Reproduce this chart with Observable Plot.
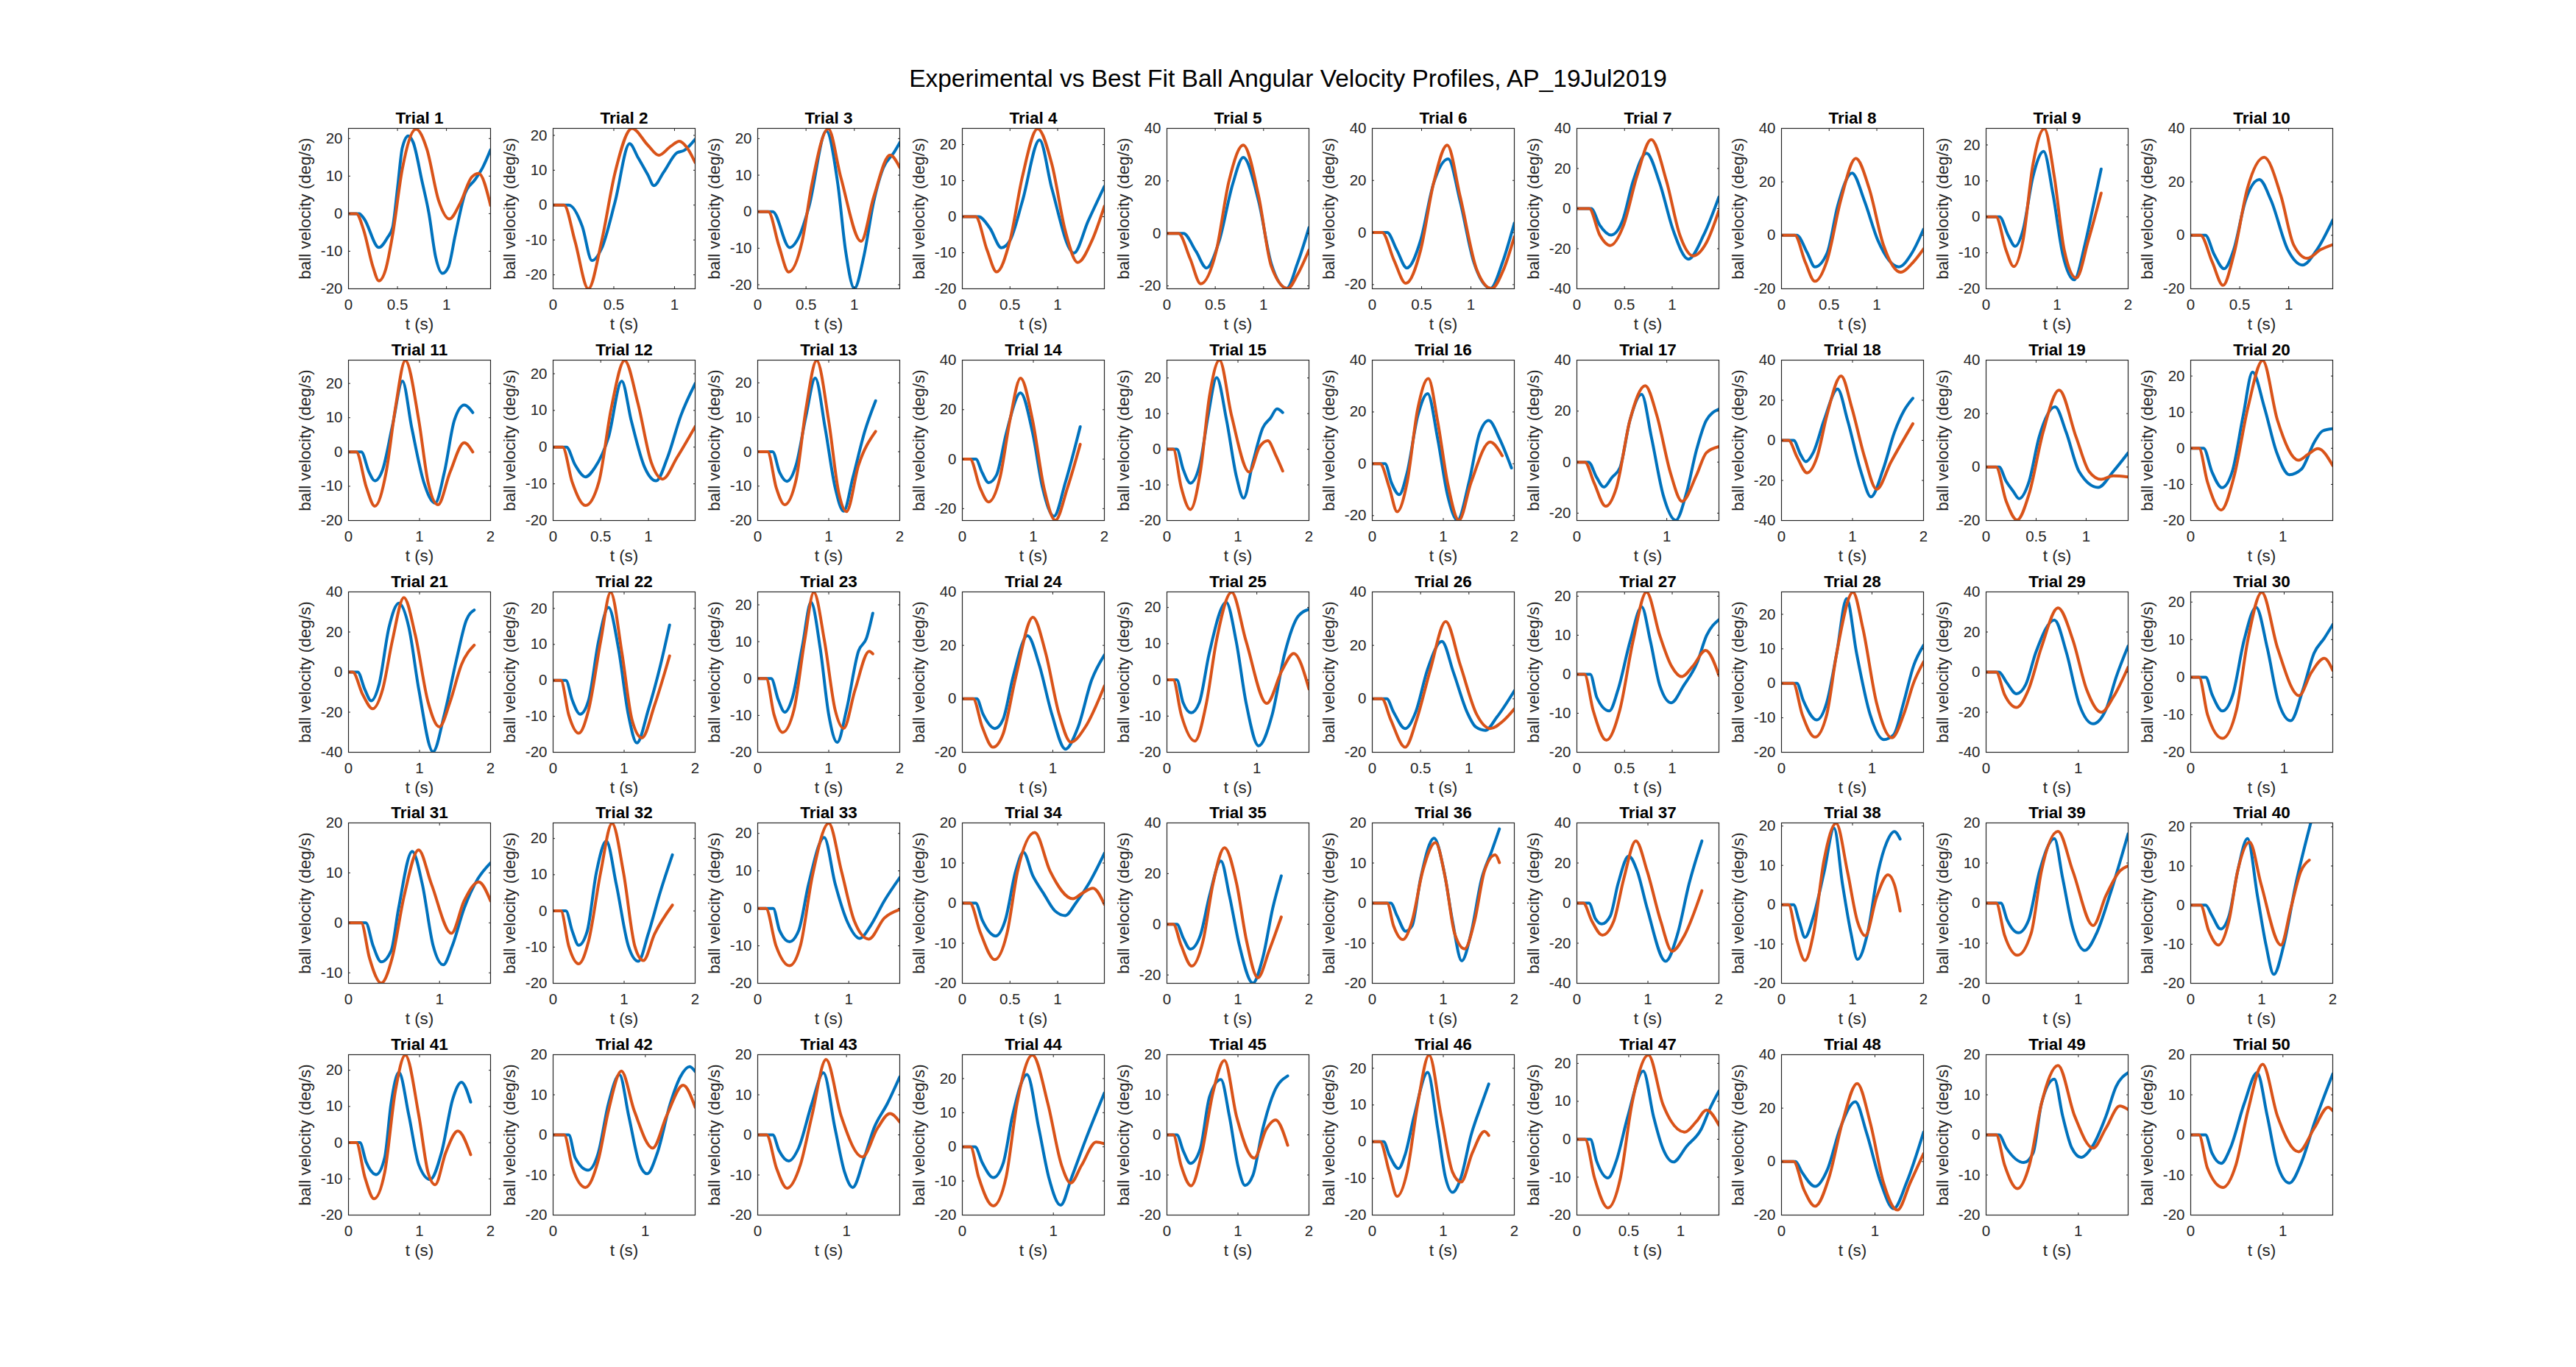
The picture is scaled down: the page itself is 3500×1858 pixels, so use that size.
<!DOCTYPE html>
<html>
<head>
<meta charset="utf-8">
<script src="https://cdn.jsdelivr.net/npm/d3@7"></script>
<script src="https://cdn.jsdelivr.net/npm/@observablehq/plot@0.6"></script>
<style>
  html, body { margin: 0; padding: 0; background: #ffffff; }
  #fig { position: relative; width: 3500px; height: 1858px; background: #ffffff; font-family: "Liberation Sans", Arial, Helvetica, sans-serif; }
  #title { position: absolute; left: 0; top: 90px; width: 3500px; text-align: center; font-size: 33.5px; line-height: 33.5px; color: #000; }
  .panel { position: absolute; }
  .panel svg { max-width: none !important; }
</style>
</head>
<body>
<div id="fig">
  <div id="title">Experimental vs Best Fit Ball Angular Velocity Profiles, AP_19Jul2019</div>
</div>
<script>
// ---------- data ----------
const trialNames = Array.from({length: 50}, (_, i) => `Trial ${i + 1}`);
const seriesNames = ["experimental", "best fit"];
const xLabel = "t (s)";
const yLabel = "ball velocity (deg/s)";

const xMax = [1.45,1.17,1.47,1.49,1.47,1.44,1.49,1.49,2,1.45,
              2,1.49,2,2,2,2,1.58,2,1.42,1.54,
              2,2,2,1.57,1.58,1.47,1.49,1.57,1.54,1.52,
              1.56,2,1.56,1.49,2,2,2,2,1.54,2,
              2,1.54,1.6,1.56,2,2,1.37,1.52,1.54,1.54];
const xTickStep = [0.5,0.5,0.5,0.5,0.5,0.5,0.5,0.5,1,0.5,
                   1,0.5,1,1,1,1,1,1,0.5,1,
                   1,1,1,1,1,0.5,0.5,1,1,1,
                   1,1,1,0.5,1,1,1,1,1,1,
                   1,1,1,1,1,1,0.5,1,1,1];
const yMin = [-20,-24,-21.1,-20,-21.1,-21.6,-40,-20,-20,-20,
              -20,-20,-20,-24.8,-20,-21.9,-22.9,-40,-20,-20,
              -40,-20,-20,-20,-20,-20,-20,-20,-40,-20,
              -12.1,-20,-20,-20,-23.3,-20,-40,-20,-20,-20,
              -20,-20,-20,-20,-20,-20,-20,-20,-20,-20];
const yMax = [22.7,22,22.8,24.5,40,40,40,40,24.6,40,
              26.8,23.7,26.6,40,25,40,40,40,40,24.4,
              40,24.6,23.5,40,24.3,40,21.1,26.5,40,22.7,
              20,24.3,22.8,20,40,20,40,20.8,20,21,
              24.3,20,20,27,20,23.7,22.3,40,20,20];
const yTickStep = [10,10,10,10,20,20,20,20,10,20,
                   10,10,10,20,10,20,20,20,20,10,
                   20,10,10,20,10,20,10,10,20,10,
                   10,10,10,10,20,10,20,10,10,10,
                   10,10,10,10,10,10,10,20,10,10];

// experimental ball velocity (blue): [t (s), deg/s]
const experimental = [
  [[0,0],[0.11,0],[0.16,-1.4],[0.31,-9],[0.40,-6.3],[0.45,-3.7],[0.5,6.7],[0.55,17.6],[0.61,20.7],[0.66,19],[0.75,8.7],[0.82,0.2],[0.89,-11.6],[0.96,-15.9],[1.02,-14.2],[1.09,-5.7],[1.19,5.4],[1.29,9],[1.37,12.3],[1.45,17]],
  [[0,0],[0.13,0],[0.24,-6.1],[0.32,-15.9],[0.4,-12.4],[0.51,0.9],[0.63,17.6],[0.7,13.6],[0.78,8.7],[0.83,5.6],[0.91,9.4],[1.02,15],[1.08,15.7],[1.17,18.9]],
  [[0,0],[0.155,0],[0.33,-9.8],[0.43,-6.7],[0.53,1.3],[0.71,22.1],[0.83,7.4],[0.91,-10.8],[1.0,-21],[1.1,-12],[1.2,2.7],[1.3,12],[1.41,16.2],[1.47,18.9]],
  [[0,0],[0.17,0],[0.29,-3.2],[0.41,-8.6],[0.5,-6.6],[0.63,4.3],[0.81,21.3],[0.94,7.7],[1.17,-10.1],[1.32,-1.2],[1.49,8.4]],
  [[0,0],[0.17,0],[0.3,-6.8],[0.41,-13.2],[0.54,-3],[0.68,18.7],[0.79,28.9],[0.95,12.1],[1.08,-11.5],[1.24,-20.9],[1.35,-11.5],[1.47,2.2]],
  [[0,0],[0.15,0],[0.25,-6.8],[0.35,-13.6],[0.49,-3],[0.62,18.7],[0.77,28.3],[0.89,12.1],[1.03,-11.5],[1.2,-21.4],[1.32,-11.5],[1.44,3.6]],
  [[0,0],[0.15,0],[0.24,-8.3],[0.36,-13.2],[0.48,-5.9],[0.59,13.7],[0.73,27.6],[0.87,12.5],[1.01,-10.8],[1.17,-25.2],[1.33,-13.2],[1.49,5.8]],
  [[0,0],[0.16,0],[0.27,-6.5],[0.35,-11.8],[0.48,-6.5],[0.59,11.1],[0.74,23.3],[0.87,12.9],[1.01,-1.8],[1.23,-11.8],[1.37,-6.5],[1.49,2.3]],
  [[0,0],[0.19,0],[0.31,-5.1],[0.41,-8.2],[0.52,-3.7],[0.66,11.2],[0.81,18.2],[0.94,6.5],[1.08,-10.5],[1.24,-17.5],[1.39,-7.8],[1.51,3.1],[1.62,13.3]],
  [[0,0],[0.15,0],[0.24,-7.2],[0.34,-12.5],[0.44,-5.3],[0.56,13.1],[0.7,20.9],[0.82,13.1],[0.99,-5.3],[1.14,-11.1],[1.29,-5.3],[1.45,5.7]],
  [[0,0],[0.18,0],[0.29,-5.9],[0.37,-8.4],[0.48,-5.2],[0.62,7.8],[0.76,20.7],[0.89,7.1],[1.06,-8.8],[1.22,-14.9],[1.35,-5.9],[1.49,9.2],[1.63,13.7],[1.75,11.5]],
  [[0,0],[0.14,0],[0.23,-4.8],[0.34,-8.1],[0.44,-5.5],[0.58,2.6],[0.72,18],[0.82,7.2],[0.96,-5.5],[1.08,-9.2],[1.2,-2.8],[1.34,8.6],[1.49,17.3]],
  [[0,0],[0.21,0],[0.31,-6.1],[0.41,-8.6],[0.54,-3.9],[0.68,10.4],[0.81,21.4],[0.95,6.8],[1.09,-10.4],[1.21,-17.3],[1.34,-7.5],[1.51,6.1],[1.66,14.8]],
  [[0,0],[0.19,0],[0.28,-5.5],[0.37,-9.5],[0.48,-6.5],[0.62,10.6],[0.82,26.8],[0.99,10.6],[1.13,-11.6],[1.29,-23.1],[1.45,-9.5],[1.66,13.1]],
  [[0,0],[0.14,0],[0.23,-5.7],[0.33,-9.5],[0.47,-3.7],[0.58,9.4],[0.7,20.1],[0.84,8.1],[0.98,-7.8],[1.08,-13.7],[1.21,-3.7],[1.35,6],[1.46,8.8],[1.55,11.3],[1.63,10.3]],
  [[0,0],[0.18,0],[0.27,-7.3],[0.38,-11.9],[0.49,-3.5],[0.64,18.4],[0.78,27.1],[0.92,9.8],[1.06,-12.1],[1.2,-21.8],[1.36,-7.3],[1.51,11.7],[1.64,16.7],[1.79,9.8],[1.96,-1.6]],
  [[0,0],[0.13,0],[0.22,-6],[0.3,-9.8],[0.39,-6],[0.48,-2.1],[0.59,16.4],[0.72,26.6],[0.83,9.6],[0.96,-12.9],[1.1,-22.8],[1.22,-11.9],[1.33,4.7],[1.44,16.4],[1.58,20.8]],
  [[0,0],[0.17,0],[0.27,-7.2],[0.34,-10.6],[0.45,-5.9],[0.6,10.1],[0.79,25.6],[0.93,10.1],[1.12,-15.8],[1.26,-28.2],[1.43,-14.6],[1.59,4],[1.73,15.1],[1.85,21]],
  [[0,0],[0.13,0],[0.2,-5.3],[0.27,-9],[0.33,-11.8],[0.43,-5.3],[0.53,11.2],[0.69,22.5],[0.8,13.1],[0.93,-1.7],[1.12,-7.6],[1.27,-1.7],[1.42,5.3]],
  [[0,0],[0.14,0],[0.23,-6.5],[0.34,-10.9],[0.45,-6.5],[0.57,9.2],[0.67,21.1],[0.8,11.2],[0.93,-1],[1.07,-7.3],[1.2,-5.8],[1.34,1.7],[1.43,4.8],[1.54,5.4]],
  [[0,0],[0.13,0],[0.23,-8.7],[0.32,-14.3],[0.43,-6.2],[0.57,22.3],[0.71,34.4],[0.85,22.3],[0.99,-8.7],[1.19,-39.7],[1.35,-21.1],[1.52,6.2],[1.66,26],[1.77,31]],
  [[0,0],[0.18,0],[0.27,-5.5],[0.38,-9.4],[0.5,-5.5],[0.64,10.9],[0.78,20.3],[0.92,8.9],[1.06,-9.6],[1.18,-17.4],[1.34,-8.2],[1.51,4.1],[1.64,15.4]],
  [[0,0],[0.19,0],[0.29,-5.8],[0.38,-9.1],[0.49,-5.1],[0.63,8.9],[0.75,20.7],[0.88,8.2],[1.0,-9.8],[1.12,-17.3],[1.25,-8.5],[1.42,7.5],[1.53,10.9],[1.62,17.7]],
  [[0,0],[0.16,0],[0.23,-5.8],[0.36,-11.1],[0.45,-7.7],[0.56,8.1],[0.72,23.6],[0.85,12.7],[0.99,-5.8],[1.14,-18.8],[1.28,-10.5],[1.43,7.1],[1.57,16.4]],
  [[0,0],[0.11,0],[0.18,-6.3],[0.27,-9.1],[0.36,-6.3],[0.47,7.3],[0.66,21.4],[0.77,10.7],[0.88,-6.3],[1.02,-18.2],[1.17,-9.7],[1.31,7.3],[1.46,17.6],[1.58,19.5]],
  [[0,0],[0.15,0],[0.22,-4.9],[0.34,-11.1],[0.45,-4.9],[0.57,10.8],[0.72,21.5],[0.84,9.9],[0.98,-4.9],[1.07,-10.5],[1.17,-11.8],[1.29,-6.8],[1.47,3]],
  [[0,0],[0.14,0],[0.21,-6],[0.34,-9.4],[0.43,-4.1],[0.56,8.6],[0.68,17.3],[0.77,8.6],[0.87,-2.9],[0.99,-7.3],[1.12,-2.9],[1.26,2.9],[1.36,9.9],[1.49,14]],
  [[0,0],[0.17,0],[0.24,-4.9],[0.39,-10.6],[0.5,-5.6],[0.61,8.7],[0.72,24.6],[0.83,8.7],[0.98,-9.1],[1.13,-16.3],[1.24,-14.9],[1.35,-5.6],[1.46,5.1],[1.57,11]],
  [[0,0],[0.14,0],[0.22,-5],[0.33,-10.8],[0.43,-6.2],[0.54,9.9],[0.74,26],[0.87,9.9],[1.01,-16.1],[1.16,-25.8],[1.3,-18.6],[1.41,-2.5],[1.54,13]],
  [[0,0],[0.16,0],[0.23,-4.7],[0.34,-9],[0.45,-4.7],[0.57,9.7],[0.7,18.6],[0.82,7.7],[0.94,-6.7],[1.07,-11.6],[1.2,-3.4],[1.32,6.4],[1.43,10.4],[1.52,14]],
  [[0,0],[0.19,0],[0.27,-4.6],[0.36,-7.8],[0.47,-5.5],[0.55,2.9],[0.7,14.3],[0.81,7.8],[0.93,-4.6],[1.04,-8.4],[1.14,-4.6],[1.27,2.9],[1.42,8.8],[1.56,12]],
  [[0,0],[0.18,0],[0.27,-5.6],[0.36,-9.5],[0.48,-5.6],[0.61,10.7],[0.75,19.3],[0.89,7.3],[1.06,-9.7],[1.2,-13.9],[1.34,-6.3],[1.51,5.3],[1.68,15.5]],
  [[0,0],[0.17,0],[0.24,-5.9],[0.35,-8.9],[0.45,-5.9],[0.56,6.6],[0.73,18.9],[0.85,6.6],[0.99,-3.9],[1.12,-8],[1.24,-4.6],[1.39,2],[1.56,8.2]],
  [[0,0],[0.14,0],[0.21,-4.3],[0.35,-8.2],[0.45,-4.3],[0.56,8],[0.64,12.7],[0.74,6.8],[0.85,2.5],[0.97,-1.9],[1.08,-3.1],[1.19,0],[1.33,5],[1.49,12.4]],
  [[0,0],[0.14,0],[0.23,-5.4],[0.33,-9.8],[0.47,-4.4],[0.6,11.3],[0.76,25],[0.88,11.3],[1.02,-8.3],[1.21,-23.2],[1.35,-13.2],[1.49,6.4],[1.61,19.1]],
  [[0,0],[0.26,0],[0.35,-3.2],[0.47,-7],[0.56,-5.7],[0.68,6.1],[0.87,16.2],[1.01,8],[1.13,-4.5],[1.26,-14.4],[1.39,-7.6],[1.54,6.1],[1.68,12.9],[1.79,18.5]],
  [[0,0],[0.17,0],[0.26,-7.7],[0.35,-10.4],[0.47,-6.4],[0.58,9.7],[0.73,23.5],[0.85,15.9],[0.99,-2.7],[1.25,-29],[1.42,-15.1],[1.58,9.7],[1.76,31]],
  [[0,0],[0.17,0],[0.25,-4.3],[0.33,-8.3],[0.45,-3],[0.6,8.3],[0.74,19.5],[0.86,5.1],[0.98,-7.4],[1.07,-13.9],[1.21,-7.4],[1.36,8.3],[1.48,15.8],[1.59,18.6],[1.67,16.7]],
  [[0,0],[0.16,0],[0.23,-4.3],[0.35,-7.4],[0.46,-4.3],[0.58,8],[0.74,16.1],[0.83,6.2],[0.94,-6.2],[1.07,-11.8],[1.2,-7.4],[1.34,1.9],[1.54,17.3]],
  [[0,0],[0.21,0],[0.3,-2.7],[0.42,-6.1],[0.54,-2.7],[0.66,8.6],[0.8,17],[0.94,2.3],[1.06,-10.2],[1.17,-17.7],[1.31,-10.2],[1.48,5.4],[1.69,21]],
  [[0,0],[0.16,0],[0.25,-5.4],[0.39,-8.8],[0.51,-4.1],[0.6,10.9],[0.71,19.4],[0.85,7.5],[0.99,-6.1],[1.15,-10.2],[1.31,-2.7],[1.47,12.2],[1.59,16.7],[1.72,11.2]],
  [[0,0],[0.17,0],[0.24,-5.7],[0.38,-8.8],[0.49,-4.5],[0.6,7.8],[0.72,15],[0.82,4.7],[0.94,-7.5],[1.02,-9.7],[1.13,-4.5],[1.27,7.8],[1.38,14.5],[1.48,17],[1.54,15.8]],
  [[0,0],[0.17,0],[0.24,-3.9],[0.35,-6.5],[0.46,-3.3],[0.61,7.8],[0.74,15.5],[0.87,1.7],[0.98,-9.4],[1.07,-13.1],[1.2,-5.7],[1.31,1.7],[1.46,7.8],[1.6,14.5]],
  [[0,0],[0.14,0],[0.22,-4.7],[0.34,-9],[0.45,-4.7],[0.55,9],[0.71,21.2],[0.84,5.4],[0.95,-9],[1.08,-17.1],[1.2,-9],[1.35,1.8],[1.56,15.8]],
  [[0,0],[0.14,0],[0.23,-4],[0.33,-7.1],[0.47,-3.4],[0.6,9.5],[0.76,13.8],[0.88,4.6],[1.0,-7.7],[1.1,-12.6],[1.21,-10.1],[1.35,1.5],[1.51,10.7],[1.7,14.7]],
  [[0,0],[0.16,0],[0.24,-3.7],[0.37,-7.3],[0.46,-3.7],[0.59,7],[0.78,18.9],[0.92,3.7],[1.03,-9.7],[1.13,-13.8],[1.25,-9.7],[1.39,1.7],[1.54,10.3],[1.64,15.7]],
  [[0,0],[0.13,0],[0.19,-5.7],[0.3,-10.2],[0.38,-5.7],[0.49,5.9],[0.64,18],[0.74,5.9],[0.83,-2.5],[0.93,-6],[1.06,-1.8],[1.2,2.7],[1.28,7.9],[1.37,12.7]],
  [[0,0],[0.15,0],[0.22,-4],[0.36,-9.3],[0.49,-3.1],[0.63,12.7],[0.79,22.4],[0.91,10.8],[1.06,-7.7],[1.2,-17.6],[1.34,-7.7],[1.52,11]],
  [[0,0],[0.14,0],[0.22,-3.3],[0.41,-6.9],[0.51,-4.5],[0.6,7.8],[0.74,13.9],[0.83,4.7],[0.93,-3.3],[1.03,-5.6],[1.16,-2.6],[1.3,4.7],[1.41,12.1],[1.54,15.5]],
  [[0,0],[0.16,0],[0.23,-4.5],[0.33,-7.1],[0.43,-3.3],[0.58,7.8],[0.72,15.5],[0.83,4.7],[0.94,-7.5],[1.07,-12],[1.2,-6.9],[1.34,2.9],[1.54,15.2]]
];

// best fit ball velocity (orange): [t (s), deg/s]
const bestFit = [
  [[0,0],[0.08,0],[0.155,-4.4],[0.25,-14.2],[0.31,-17.9],[0.38,-14.8],[0.45,-5.7],[0.55,12],[0.69,22.5],[0.8,17.2],[0.92,3.5],[1.03,-1.4],[1.14,2.8],[1.26,9.8],[1.33,10.7],[1.45,2.2]],
  [[0,0],[0.09,0],[0.18,-10.3],[0.29,-24],[0.4,-10.3],[0.51,9.3],[0.65,22],[0.78,17.2],[0.87,14.3],[0.97,16.9],[1.04,18.3],[1.1,16.6],[1.17,12.2]],
  [[0,0],[0.11,0],[0.22,-9.4],[0.32,-16.5],[0.46,-8.1],[0.56,7.4],[0.73,22.7],[0.86,9.4],[1.07,-8.1],[1.2,4],[1.37,15.5],[1.47,12.1]],
  [[0,0],[0.14,0],[0.26,-9.3],[0.36,-15.3],[0.5,-6.6],[0.63,11.1],[0.79,24.4],[0.94,14.5],[1.08,-3.9],[1.21,-12.7],[1.36,-6.6],[1.49,2.9]],
  [[0,0],[0.12,0],[0.24,-9.6],[0.35,-19.2],[0.51,-6.8],[0.64,19.6],[0.79,33.6],[0.95,14],[1.08,-12.5],[1.25,-21],[1.35,-15.8],[1.47,-6.3]],
  [[0,0],[0.1,0],[0.22,-10.6],[0.34,-19.5],[0.49,-6.8],[0.62,18.7],[0.76,33.6],[0.89,14],[1.06,-14.3],[1.21,-21.5],[1.33,-14.3],[1.44,-1.6]],
  [[0,0],[0.13,0],[0.24,-13.2],[0.35,-18.4],[0.49,-8.3],[0.63,16.2],[0.78,34.4],[0.94,13.7],[1.08,-13.2],[1.22,-23.6],[1.36,-16.9],[1.49,-1]],
  [[0,0],[0.14,0],[0.25,-10.1],[0.35,-17.2],[0.48,-9.2],[0.62,12.9],[0.78,28.8],[0.92,17.5],[1.07,-3.7],[1.25,-13.8],[1.38,-10.1],[1.49,-5.1]],
  [[0,0],[0.14,0],[0.28,-9.2],[0.39,-13.8],[0.52,-6.5],[0.66,14.6],[0.82,24.5],[0.96,11.2],[1.1,-9.2],[1.27,-17],[1.44,-6.5],[1.62,6.6]],
  [[0,0],[0.1,0],[0.22,-10],[0.33,-18.7],[0.44,-7.2],[0.58,17.7],[0.75,29.2],[0.92,14.9],[1.05,-3.5],[1.19,-8.6],[1.33,-5.3],[1.45,-3.5]],
  [[0,0],[0.11,0],[0.25,-10.2],[0.37,-15.8],[0.53,-5.9],[0.66,12.8],[0.8,26.7],[0.99,9.2],[1.12,-8.8],[1.26,-15.4],[1.43,-5.9],[1.63,2.7],[1.75,0]],
  [[0,0],[0.1,0],[0.2,-9.5],[0.34,-15.9],[0.48,-9.5],[0.61,10.6],[0.75,23.6],[0.89,11.9],[1.03,-4.2],[1.15,-8.7],[1.3,-2.8],[1.49,5.6]],
  [[0,0],[0.14,0],[0.26,-10.4],[0.38,-15.4],[0.54,-8.2],[0.68,12.5],[0.83,26.5],[1.0,8.9],[1.14,-11.8],[1.25,-17.4],[1.42,-3.9],[1.66,5.9]],
  [[0,0],[0.11,0],[0.25,-11.6],[0.37,-17.3],[0.53,-7.5],[0.67,15.6],[0.82,32.7],[0.99,15.6],[1.15,-11.6],[1.31,-24.7],[1.48,-11.6],[1.66,6]],
  [[0,0],[0.09,0],[0.2,-10.6],[0.33,-16.9],[0.47,-6.4],[0.6,15],[0.74,25],[0.91,9.4],[1.16,-6.4],[1.3,0.5],[1.42,2.4],[1.53,-1.6],[1.63,-6.1]],
  [[0,0],[0.11,0],[0.24,-9.2],[0.35,-18.5],[0.49,-7.3],[0.64,21.2],[0.79,32.9],[0.92,16.5],[1.06,-7.3],[1.22,-21.8],[1.39,-7.3],[1.66,8.4],[1.83,3.1]],
  [[0,0],[0.09,0],[0.19,-8],[0.32,-17.3],[0.44,-10],[0.59,16.4],[0.76,30],[0.89,18.3],[1.04,-4.1],[1.17,-15.4],[1.33,-5.1],[1.44,3.7],[1.58,6.1]],
  [[0,0],[0.1,0],[0.22,-8.4],[0.36,-16.2],[0.5,-8.4],[0.64,12.6],[0.84,32.1],[0.99,16.3],[1.17,-8.4],[1.34,-24.4],[1.54,-10.9],[1.85,8.3]],
  [[0,0],[0.1,0],[0.2,-12.7],[0.31,-19.8],[0.43,-10],[0.57,13.1],[0.73,28.8],[0.9,11.2],[1.03,-1.7],[1.15,-4.6],[1.27,-3.3],[1.42,-3.7]],
  [[0,0],[0.09,0],[0.18,-9.2],[0.33,-17.1],[0.47,-7.8],[0.62,11.2],[0.78,24.3],[0.94,7.8],[1.17,-3.3],[1.27,-1.7],[1.38,-0.1],[1.54,-4.8]],
  [[0,0],[0.06,0],[0.2,-11.2],[0.34,-18.3],[0.48,-8.7],[0.62,16.1],[0.78,37.2],[0.94,18.6],[1.12,-14.9],[1.28,-27.3],[1.43,-14.9],[1.59,3.7],[1.77,13.4]],
  [[0,0],[0.11,0],[0.22,-9.6],[0.36,-14.7],[0.5,-8.2],[0.67,10.9],[0.81,24.5],[0.97,7.5],[1.11,-10.9],[1.25,-16],[1.43,-6.8],[1.64,6.8]],
  [[0,0],[0.12,0],[0.23,-9.8],[0.35,-14.6],[0.51,-8.5],[0.66,10.2],[0.79,23.4],[0.94,10.2],[1.09,-8.5],[1.21,-13.5],[1.37,-3.1],[1.57,7.4],[1.62,6.7]],
  [[0,0],[0.12,0],[0.22,-10.5],[0.34,-18.1],[0.45,-13.2],[0.59,8.1],[0.78,30.5],[0.92,17.3],[1.07,-5.8],[1.2,-16.2],[1.36,-10.5],[1.57,4.8]],
  [[0,0],[0.07,0],[0.16,-9.7],[0.31,-16.9],[0.44,-6.3],[0.55,10.7],[0.72,24.2],[0.88,10.7],[1.11,-6.5],[1.28,2.6],[1.41,7.3],[1.58,-2.5]],
  [[0,0],[0.1,0],[0.19,-7.7],[0.34,-18.1],[0.46,-7.7],[0.6,10.8],[0.76,28.9],[0.91,12.7],[1.08,-5.8],[1.22,-11.1],[1.36,-8.1],[1.47,-3.8]],
  [[0,0],[0.08,0],[0.17,-9.2],[0.31,-16.9],[0.45,-9.2],[0.59,8.6],[0.73,21.05],[0.87,9.9],[0.99,2.2],[1.1,-0.6],[1.22,2.2],[1.35,6.1],[1.49,-0.3]],
  [[0,0],[0.13,0],[0.23,-9.1],[0.37,-15.6],[0.5,-9.1],[0.61,8.7],[0.79,26.4],[0.9,15.9],[1.05,-5.6],[1.22,-15.8],[1.35,-9.1],[1.46,0.1],[1.57,6.2]],
  [[0,0],[0.11,0],[0.2,-11.2],[0.33,-17.6],[0.46,-8.7],[0.6,12.4],[0.78,32],[0.94,16.1],[1.09,-8.7],[1.25,-20],[1.38,-12.4],[1.54,2.5]],
  [[0,0],[0.09,0],[0.18,-10],[0.34,-16.3],[0.49,-8.7],[0.61,9.7],[0.76,22.6],[0.93,7.7],[1.16,-4.9],[1.29,1.2],[1.43,5],[1.52,1.8]],
  [[0,0],[0.14,0],[0.23,-7],[0.36,-12.05],[0.48,-7],[0.61,5.3],[0.77,14.6],[0.91,7.8],[1.13,-2.1],[1.27,4.4],[1.43,8.2],[1.56,4.4]],
  [[0,0],[0.11,0],[0.22,-9.7],[0.36,-14.6],[0.5,-8.3],[0.67,10.7],[0.83,24.2],[0.99,10.7],[1.15,-9.7],[1.27,-13.7],[1.43,-6.3],[1.68,1.6]],
  [[0,0],[0.09,0],[0.2,-9.9],[0.35,-15.3],[0.47,-9.9],[0.6,8.6],[0.78,22.7],[0.92,9.9],[1.06,-3.3],[1.22,-8.2],[1.39,-2.6],[1.56,-0.3]],
  [[0,0],[0.08,0],[0.19,-7.4],[0.34,-14.1],[0.47,-7.4],[0.58,8],[0.76,17.6],[0.92,8],[1.16,1.1],[1.26,2.5],[1.37,3.7],[1.49,-0.3]],
  [[0,0],[0.09,0],[0.2,-8.3],[0.35,-16.5],[0.51,-6.4],[0.65,16.2],[0.81,30.2],[0.98,16.2],[1.12,-6.4],[1.28,-21.1],[1.44,-10.3],[1.61,2.9]],
  [[0,0],[0.21,0],[0.3,-5.7],[0.43,-9.1],[0.56,-4.5],[0.71,8],[0.89,15.1],[1.03,6.1],[1.16,-7.6],[1.3,-11.4],[1.44,-4.5],[1.58,8],[1.73,12],[1.79,10.1]],
  [[0,0],[0.09,0],[0.21,-8.9],[0.36,-16],[0.52,-8.9],[0.66,12.1],[0.83,31],[0.99,15.9],[1.18,-8.9],[1.34,-24],[1.51,-16.4],[1.76,6.2]],
  [[0,0],[0.1,0],[0.22,-9.2],[0.33,-14.2],[0.45,-7.4],[0.6,11.4],[0.77,20.7],[0.93,8.3],[1.07,-4.3],[1.18,-7.9],[1.34,2],[1.5,7.6],[1.59,5.1],[1.67,-1.6]],
  [[0,0],[0.11,0],[0.2,-8],[0.34,-13],[0.49,-7.4],[0.6,8],[0.78,17.9],[0.94,8],[1.16,-5.6],[1.3,1.9],[1.45,8],[1.54,9.3]],
  [[0,0],[0.14,0],[0.25,-6.4],[0.39,-10.2],[0.54,-3.9],[0.66,8.6],[0.83,16.1],[0.99,5.4],[1.27,-10.2],[1.41,-0.8],[1.55,8.6],[1.67,11.5]],
  [[0,0],[0.11,0],[0.23,-9.5],[0.36,-15.5],[0.51,-8.2],[0.66,14.3],[0.8,24.2],[0.99,7.5],[1.12,-8.2],[1.22,-11.6],[1.37,-2.7],[1.54,3.2],[1.72,-3.3]],
  [[0,0],[0.12,0],[0.21,-8.2],[0.35,-13.1],[0.49,-6.3],[0.6,6],[0.74,15.9],[0.88,6],[1.08,-3.3],[1.23,4.7],[1.41,12.4],[1.54,6.9]],
  [[0,0],[0.1,0],[0.21,-8.2],[0.33,-13.3],[0.48,-7.5],[0.61,4.7],[0.77,18.8],[0.94,4.7],[1.18,-5.5],[1.35,1.7],[1.49,5.3],[1.6,3.2]],
  [[0,0],[0.09,0],[0.18,-9],[0.34,-17.3],[0.48,-9],[0.6,12.6],[0.77,26.9],[0.94,12.6],[1.09,-5.4],[1.19,-10.6],[1.31,-5.4],[1.47,1.4],[1.56,0.9]],
  [[0,0],[0.09,0],[0.2,-7.7],[0.34,-12.7],[0.49,-4.6],[0.65,10.7],[0.81,18.6],[0.98,4.6],[1.23,-5.8],[1.4,1.5],[1.53,3.7],[1.7,-2.6]],
  [[0,0],[0.11,0],[0.24,-8.3],[0.35,-14.9],[0.49,-8.3],[0.64,10.3],[0.8,23.6],[0.97,7],[1.13,-8.3],[1.25,-11],[1.41,-3],[1.58,2.8],[1.64,1.7]],
  [[0,0],[0.08,0],[0.17,-10.2],[0.3,-18.1],[0.42,-10.2],[0.53,9.2],[0.69,22.2],[0.83,9.2],[1.04,1.9],[1.15,4.6],[1.25,7.7],[1.37,3.7]],
  [[0,0],[0.13,0],[0.24,-10.5],[0.36,-16.7],[0.51,-5.8],[0.65,14.5],[0.81,29.2],[0.95,14.5],[1.09,-7.7],[1.24,-18.1],[1.38,-7.7],[1.52,3]],
  [[0,0],[0.11,0],[0.2,-7.5],[0.34,-13.4],[0.47,-7.5],[0.6,7.8],[0.78,17.3],[0.96,4.7],[1.16,-3.3],[1.3,1.7],[1.45,7.2],[1.54,6.3]],
  [[0,0],[0.09,0],[0.18,-8.2],[0.35,-13.1],[0.49,-7.5],[0.62,6],[0.78,17.6],[0.94,4.7],[1.17,-4.2],[1.34,1.7],[1.49,6.9],[1.54,6]]
];

// ---------- layout / style ----------
const colors = ["#0072BD", "#D95319"];
const axesW = 193, axesH = 218;
const mL = 80, mR = 10, mT = 40, mB = 70;
const col0 = 473, colGap = 278.1, row0 = 174, rowGap = 314.75;
const inkAxis = "#262626";
const fmt = d => String(+d.toFixed(2));
const fig = document.getElementById("fig");

for (let i = 0; i < trialNames.length; i++) {
  const col = i % 10, row = Math.floor(i / 10);
  const xTicks = d3.range(0, xMax[i] + 1e-9, xTickStep[i]);
  const y0 = Math.ceil(yMin[i] / yTickStep[i] - 1e-9) * yTickStep[i];
  const yTicks = d3.range(y0, yMax[i] + 1e-9, yTickStep[i]);
  const rows = [experimental[i], bestFit[i]].flatMap((pts, s) =>
    pts.map(([t, v]) => ({t, v, series: seriesNames[s]})));

  const chart = Plot.plot({
    width: mL + axesW + mR,
    height: mT + axesH + mB,
    marginLeft: mL, marginRight: mR, marginTop: mT, marginBottom: mB,
    style: {fontFamily: "'Liberation Sans', Arial, Helvetica, sans-serif", fontSize: "20.5px", color: inkAxis, background: "transparent", overflow: "visible"},
    x: {domain: [0, xMax[i]]},
    y: {domain: [yMin[i], yMax[i]]},
    color: {domain: seriesNames, range: colors},
    marks: [
      Plot.line(rows, {x: "t", y: "v", z: "series", stroke: "series", strokeWidth: 4, curve: "monotone-x", clip: true}),
      Plot.frame({stroke: inkAxis, strokeWidth: 1.2}),
      Plot.axisX(xTicks, {anchor: "bottom", tickSize: 0, tickPadding: 14, tickFormat: fmt, label: null, fill: inkAxis}),
      Plot.axisX(xTicks, {anchor: "bottom", tickSize: -3, text: null, label: null, stroke: inkAxis}),
      Plot.axisX(xTicks, {anchor: "top", tickSize: -3, text: null, label: null, stroke: inkAxis}),
      Plot.axisY(yTicks, {anchor: "left", tickSize: 0, tickPadding: 8, tickFormat: fmt, label: null, fill: inkAxis}),
      Plot.axisY(yTicks, {anchor: "left", tickSize: -3, text: null, label: null, stroke: inkAxis}),
      Plot.axisY(yTicks, {anchor: "right", tickSize: -3, text: null, label: null, stroke: inkAxis}),
      Plot.text([trialNames[i]], {frameAnchor: "top", dy: -7, textAnchor: "middle", lineAnchor: "bottom", fontWeight: "bold", fontSize: 22.5, fill: "#000"}),
      Plot.text([xLabel], {frameAnchor: "bottom", dy: 55, textAnchor: "middle", lineAnchor: "bottom", fontSize: 22.5, fill: inkAxis}),
      Plot.text([yLabel], {frameAnchor: "left", dx: -51.6, rotate: -90, textAnchor: "middle", lineAnchor: "bottom", fontSize: 22.5, fill: inkAxis})
    ]
  });

  const holder = document.createElement("div");
  holder.className = "panel";
  holder.style.left = (col0 + col * colGap - mL) + "px";
  holder.style.top = (row0 + row * rowGap - mT) + "px";
  holder.appendChild(chart);
  fig.appendChild(holder);
}
</script>
</body>
</html>
